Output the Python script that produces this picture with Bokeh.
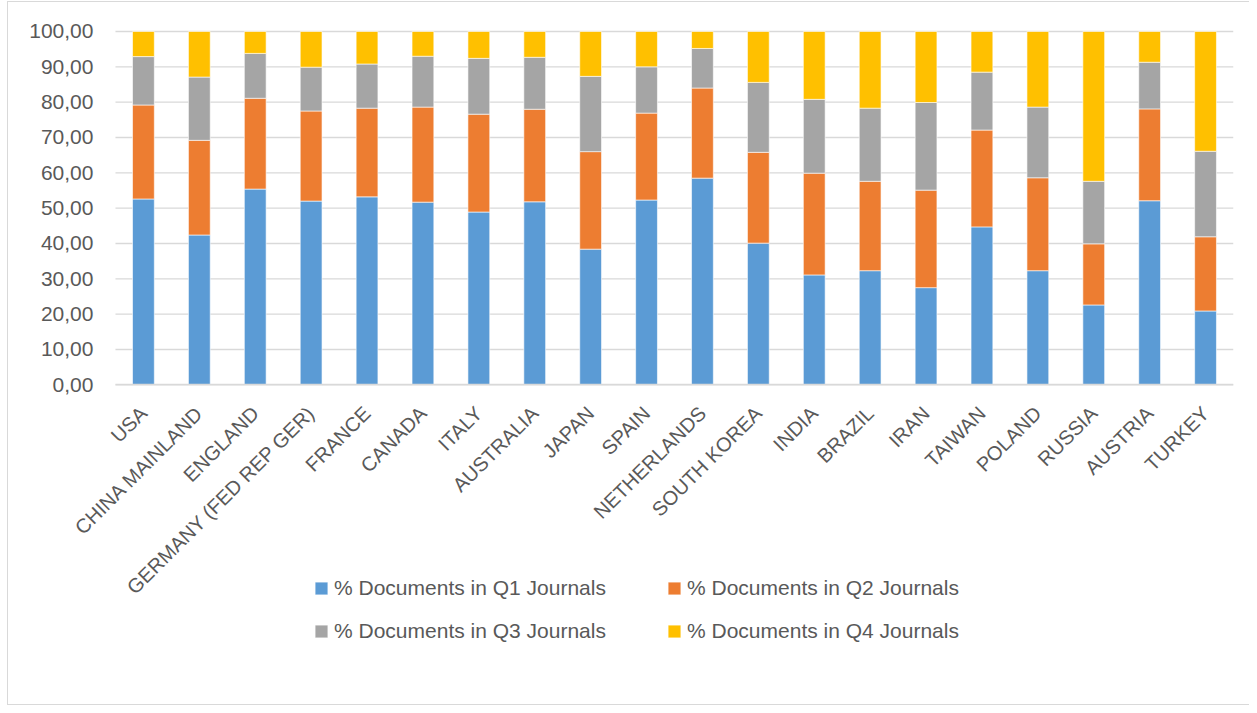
import math
from bokeh.plotting import figure
from bokeh.models import (Range1d, Legend, LegendItem,
                          CustomJSTickFormatter, FixedTicker, ColumnDataSource)
from bokeh.embed import file_html
from bokeh.resources import INLINE

countries = ["USA", "CHINA MAINLAND", "ENGLAND", "GERMANY (FED REP GER)", "FRANCE",
             "CANADA", "ITALY", "AUSTRALIA", "JAPAN", "SPAIN", "NETHERLANDS",
             "SOUTH KOREA", "INDIA", "BRAZIL", "IRAN", "TAIWAN", "POLAND",
             "RUSSIA", "AUSTRIA", "TURKEY"]
q1 = [52.6, 42.4, 55.4, 52.0, 53.2, 51.7, 48.9, 51.8, 38.4, 52.3, 58.5, 40.1,
      31.1, 32.3, 27.5, 44.7, 32.3, 22.6, 52.1, 20.9]
q2 = [26.6, 26.8, 25.7, 25.5, 25.1, 26.9, 27.7, 26.2, 27.6, 24.6, 25.5, 25.7,
      28.8, 25.3, 27.6, 27.4, 26.3, 17.3, 26.0, 21.0]
q3 = [13.7, 17.9, 12.7, 12.4, 12.5, 14.4, 15.8, 14.7, 21.3, 13.1, 11.2, 19.8,
      20.9, 20.7, 24.8, 16.4, 20.0, 17.7, 13.2, 24.2]
q4 = [7.1, 12.9, 6.2, 10.1, 9.2, 7.0, 7.6, 7.3, 12.7, 10.0, 4.8, 14.4,
      19.2, 21.7, 20.1, 11.5, 21.4, 42.4, 8.7, 33.9]
series = ["q1", "q2", "q3", "q4"]
series_labels = ["% Documents in Q1 Journals", "% Documents in Q2 Journals",
                 "% Documents in Q3 Journals", "% Documents in Q4 Journals"]
colors = ["#5B9BD5", "#ED7D31", "#A5A5A5", "#FFC000"]
y_ticks = [0, 10, 20, 30, 40, 50, 60, 70, 80, 90, 100]

FONT = "Liberation Sans"
TXT = "#595959"
GRID = "#d9d9d9"

n = len(countries)
idx = list(range(n))
source = ColumnDataSource(dict(x=idx, country=countries, q1=q1, q2=q2, q3=q3, q4=q4))

# The frame covers the label and legend space too (so nothing is clipped);
# the ranges are extended so that the category slots and 0..100 sit where
# the reference draws them.
p = figure(width=1242, height=704, output_backend="svg", toolbar_location=None,
           x_range=Range1d(-2.36, n - 0.5), y_range=Range1d(-86.8, 105.66),
           min_border_left=3, min_border_right=17, min_border_top=9,
           min_border_bottom=15)
p.margin = (1, 0, 0, 7)
p.outline_line_color = None
p.styles = {"border-left": "1px solid #d9d9d9", "border-top": "1px solid #d9d9d9",
            "border-bottom": "1px solid #d9d9d9"}

p.xgrid.grid_line_color = None
p.ygrid.grid_line_color = None
# horizontal gridlines across the category slots only
p.segment(x0=-0.5, x1=n - 0.5, y0=y_ticks, y1=y_ticks,
          line_color=GRID, line_width=1.3)

renderers = p.vbar_stack(series, x="x", width=0.39, source=source,
                         color=colors, line_color="white", line_width=0.6)

p.yaxis.fixed_location = -0.5
p.yaxis.bounds = (0, 100)
p.yaxis.ticker = FixedTicker(ticks=y_ticks)
p.yaxis.formatter = CustomJSTickFormatter(code="return tick.toFixed(2).replace('.', ',');")
p.yaxis.axis_line_color = None
p.yaxis.major_tick_line_color = None
p.yaxis.minor_tick_line_color = None
p.yaxis.major_tick_out = 0
p.yaxis.major_label_standoff = 22
p.yaxis.major_label_text_font = FONT
p.yaxis.major_label_text_font_size = "21px"
p.yaxis.major_label_text_color = TXT

p.xaxis.fixed_location = 0
p.xaxis.bounds = (-0.5, n - 0.5)
p.xaxis.ticker = FixedTicker(ticks=idx)
p.xaxis.major_label_overrides = {i: c for i, c in zip(idx, countries)}
p.xaxis.axis_line_color = GRID
p.xaxis.axis_line_width = 1.3
p.xaxis.major_tick_line_color = None
p.xaxis.minor_tick_line_color = None
p.xaxis.major_tick_out = 0
p.xaxis.major_label_standoff = 25
p.xaxis.major_label_orientation = math.pi / 4
p.xaxis.major_label_text_font = FONT
p.xaxis.major_label_text_font_size = "20px"
p.xaxis.major_label_text_color = TXT

items = [LegendItem(label=lab, renderers=[r]) for lab, r in zip(series_labels, renderers)]
legend = Legend(items=items, orientation="horizontal", ncols=2,
                location=(302, 48), padding=0, margin=0, spacing=19,
                glyph_width=16, glyph_height=16, label_standoff=5,
                label_width=313, label_height=24,
                label_text_font=FONT, label_text_font_size="21px",
                label_text_color=TXT, border_line_color=None,
                background_fill_alpha=0)
p.add_layout(legend, "center")

open("out.html", "w").write(file_html(p, INLINE))
